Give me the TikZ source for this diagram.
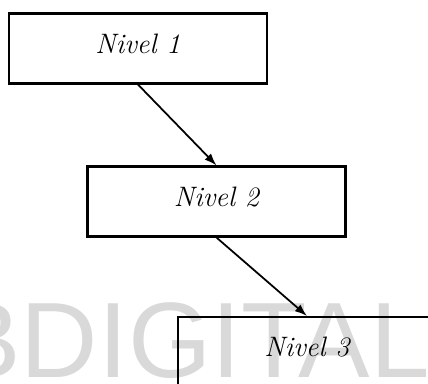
\documentclass[tikz,border=0pt]{standalone}
\usepackage{fontspec}
\newfontfamily\marcafont{Liberation Sans}
\usetikzlibrary{arrows.meta}

\begin{document}
\begin{tikzpicture}[x=0.02cm,y=-0.02cm,
        nivel/.style={draw,line width=1.2pt,minimum width=5.16cm,minimum height=1.4cm,
                      text depth=0.2cm,font=\fontsize{16}{18}\selectfont\itshape},
        flecha/.style={line width=1pt,-{Latex[length=7pt,width=5pt]}}]
        \useasboundingbox (0,0) rectangle (428,383);
        \node[anchor=base west,text=black!15,inner sep=0pt,
              font=\fontsize{61}{61}\selectfont\marcafont] (marca) at (-51,377) {BDIGITAL};
        \node[nivel] (n1) at (138,48.5) {Nivel 1};
        \node[nivel] (n2) at (216.5,201.5) {Nivel 2};
        \node[nivel] (n3) at (307,352) {Nivel 3};
        \draw[flecha] (n1.south) -- (n2.north);
        \draw[flecha] (n2.south) -- (n3.north);
\end{tikzpicture}
\end{document}
